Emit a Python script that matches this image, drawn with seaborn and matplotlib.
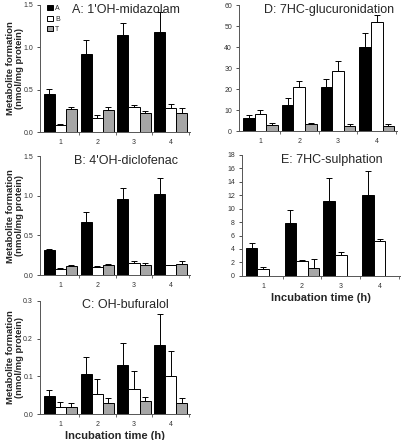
import numpy as np
import pandas as pd
import matplotlib
matplotlib.use('Agg')
import matplotlib.pyplot as plt
import seaborn as sns

times = ['1', '2', '3', '4']
groups = ['A', 'B', 'T']
colours = {'A': 'black', 'B': 'white', 'T': '#a6a6a6'}

# panel A: 1'OH-midazolam
mid_mean = {'A': [0.45, 0.92, 1.14, 1.18], 'B': [0.08, 0.17, 0.29, 0.28], 'T': [0.27, 0.26, 0.22, 0.22]}
mid_err = {'A': [0.06, 0.17, 0.15, 0.24], 'B': [0.01, 0.03, 0.03, 0.05], 'T': [0.02, 0.03, 0.03, 0.06]}

# panel B: 4'OH-diclofenac
dic_mean = {'A': [0.31, 0.67, 0.96, 1.02], 'B': [0.08, 0.10, 0.15, 0.12], 'T': [0.11, 0.12, 0.13, 0.14]}
dic_err = {'A': [0.02, 0.12, 0.14, 0.20], 'B': [0.01, 0.01, 0.03, 0.01], 'T': [0.02, 0.02, 0.02, 0.04]}

# panel C: OH-bufuralol
buf_mean = {'A': [0.047, 0.105, 0.130, 0.183], 'B': [0.019, 0.054, 0.067, 0.101], 'T': [0.019, 0.030, 0.035, 0.030]}
buf_err = {'A': [0.018, 0.047, 0.058, 0.083], 'B': [0.014, 0.040, 0.048, 0.066], 'T': [0.010, 0.013, 0.010, 0.012]}

# panel D: 7HC-glucuronidation
glu_mean = {'A': [6.2, 12.5, 20.8, 40.3], 'B': [8.3, 20.8, 28.9, 51.9], 'T': [3.1, 3.2, 2.6, 2.6]}
glu_err = {'A': [1.3, 3.2, 4.2, 6.3], 'B': [1.7, 3.0, 4.3, 3.6], 'T': [1.0, 0.6, 0.8, 0.8]}

# panel E: 7HC-sulphation (T missing at 1, 3, 4)
sul_mean = {'A': [4.2, 7.8, 11.2, 12.1], 'B': [1.0, 2.2, 3.1, 5.2], 'T': [np.nan, 1.2, np.nan, np.nan]}
sul_err = {'A': [0.7, 2.0, 3.3, 3.5], 'B': [0.3, 0.2, 0.4, 0.3], 'T': [np.nan, 1.3, np.nan, np.nan]}

sns.set_style('ticks')
plt.rcParams['font.family'] = ['Liberation Sans', 'DejaVu Sans']

fig = plt.figure(figsize=(4.01, 4.40), dpi=100)


def make_df(means, errs):
    rows = []
    for g in groups:
        for i, t in enumerate(times):
            rows.append({'time': t, 'group': g, 'value': means[g][i], 'err': errs[g][i]})
    return pd.DataFrame(rows)


def panel(rect, means, errs, title, ylim, yticks, fmt, ylab=False, xlab=False, legend=False):
    ax = fig.add_axes(rect)
    df = make_df(means, errs)
    sns.barplot(data=df.dropna(), x='time', y='value', hue='group', order=times,
                hue_order=groups, palette=colours, width=0.9, gap=0, errorbar=None,
                edgecolor='black', linewidth=0.7, ax=ax, legend=legend)
    for g, cont in zip(groups, ax.containers):
        sub = df[df.group == g].dropna()
        for bar, (_, r) in zip(cont, sub.iterrows()):
            xc = bar.get_x() + bar.get_width() / 2
            ax.errorbar(xc, r.value, yerr=[[0], [r.err]], fmt='none', ecolor='black',
                        elinewidth=0.7, capsize=2.5, capthick=0.7, zorder=3)
    ax.set_xlim(-0.55, 3.52)
    ax.set_ylim(*ylim)
    ax.set_yticks(yticks)
    ax.set_yticklabels([fmt.format(v) for v in yticks])
    ax.set_xticks([0, 1, 2, 3])
    ax.set_xticks([0.5, 1.5, 2.5, 3.5], minor=True)
    ax.tick_params(axis='x', which='major', length=0, labelsize=5, pad=5, colors='#333333')
    ax.tick_params(axis='x', which='minor', length=2.5, width=0.6, color='#555555')
    ax.tick_params(axis='y', length=2.5, width=0.6, labelsize=5, pad=2.5, colors='#333333')
    for s in ['left', 'bottom']:
        ax.spines[s].set_color('#555555')
        ax.spines[s].set_linewidth(0.7)
    sns.despine(ax=ax)
    if xlab:
        ax.set_xlabel('Incubation time (h)', fontsize=8, fontweight='bold', labelpad=2)
    else:
        ax.set_xlabel('')
    if ylab:
        ax.set_ylabel('Metabolite formation\n(nmol/mg protein)', fontsize=6.8,
                      fontweight='bold', linespacing=1.05)
        ax.yaxis.set_label_coords(-0.105, 0.5)
    else:
        ax.set_ylabel('')
    ax.text(0.57, 0.96, title, transform=ax.transAxes, ha='center', va='center', fontsize=9)
    if legend:
        ax.legend(loc='upper left', bbox_to_anchor=(0.03, 1.02), frameon=False, fontsize=5,
                  handlelength=0.8, handleheight=0.8, handletextpad=0.3, labelspacing=0.5,
                  borderaxespad=0, title=None)
    return ax


panel([0.0998, 0.70, 0.374, 0.289], mid_mean, mid_err, "A: 1'OH-midazolam",
      (0, 1.5), [0, 0.5, 1.0, 1.5], '{:.1f}', ylab=True, legend=True)
panel([0.0998, 0.375, 0.374, 0.270], dic_mean, dic_err, "B: 4'OH-diclofenac",
      (0, 1.5), [0, 0.5, 1.0, 1.5], '{:.1f}', ylab=True)
panel([0.0998, 0.059, 0.374, 0.257], buf_mean, buf_err, 'C: OH-bufuralol',
      (0, 0.3), [0, 0.1, 0.2, 0.3], '{:.1f}', ylab=True, xlab=True)
panel([0.596, 0.702, 0.394, 0.286], glu_mean, glu_err, 'D: 7HC-glucuronidation',
      (0, 60), list(range(0, 61, 10)), '{:d}')
panel([0.603, 0.373, 0.394, 0.275], sul_mean, sul_err, 'E: 7HC-sulphation',
      (0, 18), list(range(0, 19, 2)), '{:d}', xlab=True)

fig.savefig('out.png', dpi=100)
